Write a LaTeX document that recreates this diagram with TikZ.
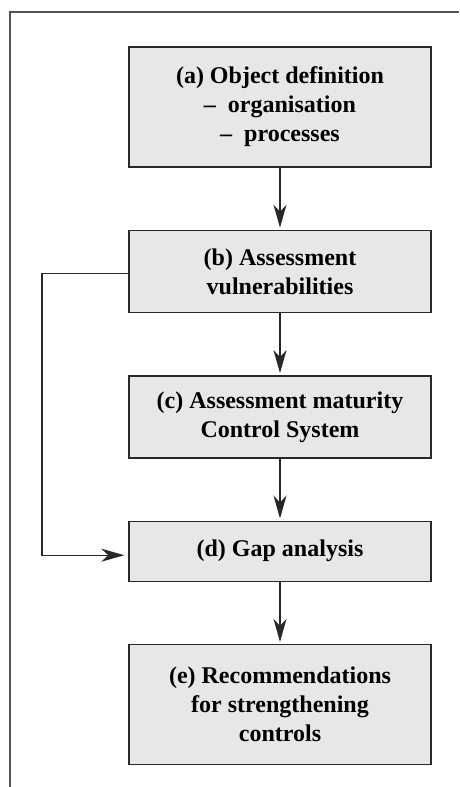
\documentclass[tikz,border=0pt]{standalone}
\usepackage{fontspec}
\setmainfont{Liberation Serif}
\usepackage{tikz}
\usetikzlibrary{positioning, arrows.meta}
\definecolor{BoxFill}{RGB}{230,231,232}
\definecolor{BoxLine}{RGB}{40,40,40}
\definecolor{FrameGray}{RGB}{85,85,85}

\begin{document}
\begin{tikzpicture}[x=1pt, y=-1pt,
            stagebox/.style={rectangle, draw=BoxLine, fill=BoxFill, line width=1.4pt,
                        minimum width=302pt, align=center,
                        font=\fontsize{24}{29}\selectfont\bfseries},
            flow/.style={-{Stealth[length=23pt, width=13pt, inset=7pt]},
                         line width=1.2pt, BoxLine, shorten >=2pt},
            node distance=62pt
          ]
          \useasboundingbox (0,0) rectangle (459,787);
          % outer frame (top and left only)
          \draw[FrameGray, line width=1.6pt] (10,787) -- (10,12) -- (459,12);

          \node[stagebox, minimum height=120pt] (a) at (280,107)
                {(a) Object definition\\ \textendash\ \ organisation\\ \textendash\ \ processes};
          \node[stagebox, minimum height=82pt, below=of a] (b)
                {(b) Assessment\\ vulnerabilities};
          \node[stagebox, minimum height=82pt, below=of b] (c)
                {(c) Assessment maturity\\ Control System};
          \node[stagebox, minimum height=60pt, below=of c] (d)
                {(d) Gap analysis};
          \node[stagebox, minimum height=120pt, below=of d] (e)
                {(e) Recommendations\\ for strengthening\\ controls};

          \foreach \from/\to in {a/b, b/c, c/d, d/e}
            \draw[flow] (\from) -- (\to);

          % feedback from (b) straight to (d)
          \coordinate (bOut) at ([yshift=-2pt]b.west);
          \coordinate (dIn) at ([yshift=-4pt]d.west);
          \coordinate (bend) at (42,0);
          \draw[flow, shorten >=4pt] (bOut) -| (bend |- dIn) -- (dIn);
        \end{tikzpicture}
\end{document}
